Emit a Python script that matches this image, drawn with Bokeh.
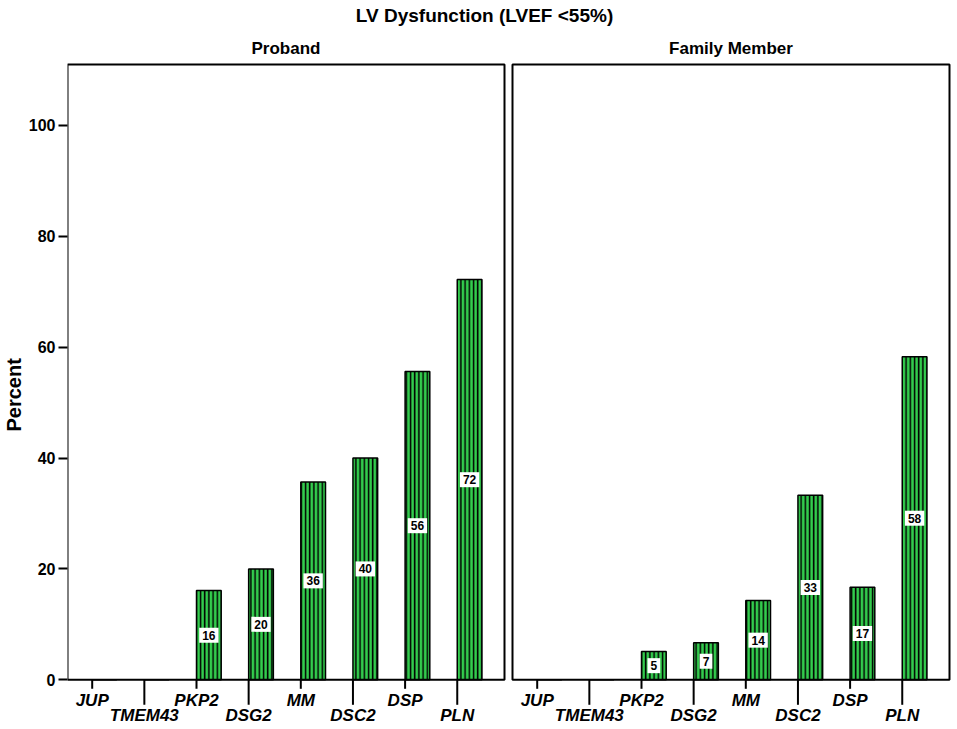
from bokeh.plotting import figure
from bokeh.models import ColumnDataSource, Range1d, FixedTicker, Title
from bokeh.embed import file_html
from bokeh.resources import INLINE
from bokeh.core.properties import value

# ---------------- data ----------------
genes = ["JUP", "TMEM43", "PKP2", "DSG2", "MM", "DSC2", "DSP", "PLN"]
proband = [0, 0, 16.1, 20.0, 35.7, 40.0, 55.6, 72.2]
family = [0, 0, 5.1, 6.7, 14.3, 33.3, 16.7, 58.3]
panel_names = ["Proband", "Family Member"]
title_text = "LV Dysfunction (LVEF <55%)"
y_ticks = [0, 20, 40, 60, 80, 100]
y_label = "Percent"

# ---------------- layout (pixels on the page) ----------------
W, H = 952, 726
FL = 67                 # left edge of the plotting frame (y axis sits left of it)
PT, PB = 64, 679.3      # top / bottom of the panel boxes
SP = 52.15              # px between category ticks
PANEL_W, GAP = 437, 8
YMAX = 111
ppy = (PB - PT) / YMAX
x0 = 1 - 24.7 / SP      # data x of the left panel's left edge
BAR_W = 24.7 / SP
FONT = "Liberation Sans"
GREEN = "#33cc4d"

def xpx(px):
    return x0 + (px - FL) / SP

def ypx(py):
    return (PB - py) / ppy

p = figure(width=W, height=H, output_backend="svg", toolbar_location=None,
           x_range=Range1d(xpx(FL), xpx(W)), y_range=Range1d(ypx(H), ypx(0)),
           min_border_left=FL, min_border_top=0, min_border_right=0,
           min_border_bottom=0)
p.outline_line_color = None
p.grid.visible = False
p.xaxis.visible = False
p.background_fill_color = "white"
p.border_fill_color = "white"

ya = p.yaxis[0]
ya.ticker = FixedTicker(ticks=y_ticks)
ya.axis_line_color = None
ya.major_tick_out = 9
ya.major_tick_in = 0
ya.major_tick_line_width = 2
ya.major_tick_line_color = "black"
ya.minor_tick_line_color = None
ya.major_label_text_font = FONT
ya.major_label_text_font_style = "bold"
ya.major_label_text_font_size = "16px"
ya.major_label_text_color = "black"
ya.major_label_standoff = 3

# y-axis title placed on the left side, anchored so it is centred near the 0-100 span
ylab = Title(text=y_label, align="left", offset=H - 431, standoff=0,
             vertical_align="middle", text_font=FONT, text_font_style="bold",
             text_font_size="20px", text_color="black")
p.add_layout(ylab, "left")

tick_x, tick_y0, tick_y1 = [], [], []
lab_x, lab_y, lab_t = [], [], []
val_x, val_y, val_t = [], [], []
box_l, box_r, ttl_x, ttl_t = [], [], [], []

for k, (name, vals) in enumerate(zip(panel_names, [proband, family])):
    off = k * (PANEL_W + GAP) / SP
    xs = [i + 1 + off for i in range(len(genes))]
    src = ColumnDataSource(dict(x=[x + BAR_W / 2 for x in xs], top=vals))
    p.vbar(x="x", top="top", bottom=0, width=BAR_W, source=src,
           fill_color=GREEN, line_color="black", line_width=1.5,
           hatch_pattern="vertical_line", hatch_color="black",
           hatch_scale=4.2, hatch_weight=1.5)
    left = x0 + off
    box_l.append(left)
    box_r.append(left + PANEL_W / SP)
    ttl_x.append(left + PANEL_W / SP / 2)
    ttl_t.append(name)
    for i, (g, v) in enumerate(zip(genes, vals)):
        long_tick = i % 2 == 1
        tick_x.append(xs[i])
        tick_y0.append(0)
        tick_y1.append(-(25 if long_tick else 9) / ppy)
        lab_x.append(xs[i])
        lab_y.append(ypx(715 if long_tick else 700))
        lab_t.append(g)
        if v > 0:
            val_x.append(xs[i] + BAR_W / 2)
            val_y.append(v / 2)
            val_t.append(f"{v:.0f}")

# panel boxes
p.quad(left=box_l, right=box_r, bottom=0, top=YMAX, fill_color=None,
       line_color="black", line_width=2)
# panel titles
p.text(x=ttl_x, y=[ypx(48)] * 2, text=ttl_t, text_align="center",
       text_baseline="middle", text_font=value(FONT), text_font_style="bold",
       text_font_size="17px", text_color="black")
# category ticks (alternating lengths)
p.segment(x0=tick_x, y0=tick_y0, x1=tick_x, y1=tick_y1, line_color="black",
          line_width=2)
# category labels
p.text(x=lab_x, y=lab_y, text=lab_t, text_align="center",
       text_baseline="middle", text_font=value(FONT),
       text_font_style="bold italic", text_font_size="17px", text_color="black")
# value labels
val_src = ColumnDataSource(dict(x=val_x, y=val_y, t=val_t))
p.text(x="x", y="y", text="t", source=val_src, text_align="center",
       text_baseline="middle", text_font=value(FONT), text_font_style="bold",
       text_font_size="12px", text_color="black",
       background_fill_color="white", padding=3)
# main title
p.text(x=[xpx(484)], y=[ypx(15)], text=[title_text], text_align="center",
       text_baseline="middle", text_font=value(FONT), text_font_style="bold",
       text_font_size="19px", text_color="black")

open("out.html", "w").write(file_html(p, INLINE))
